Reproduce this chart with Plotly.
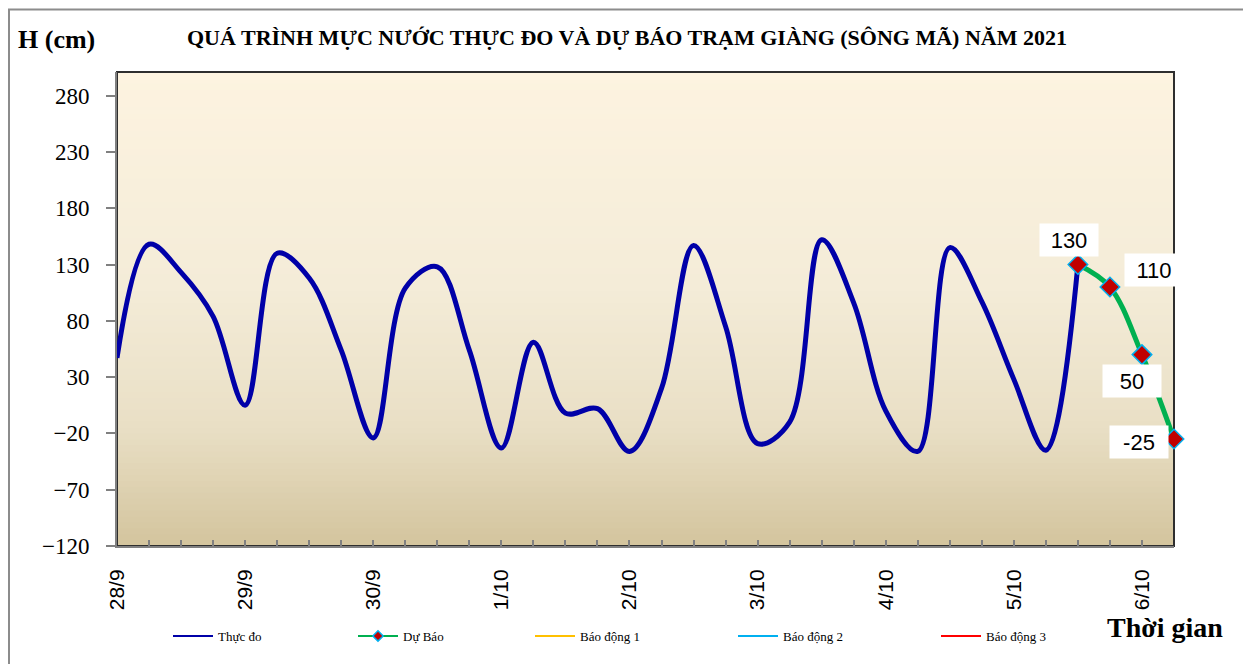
import plotly.graph_objects as go

# ---------------- data ----------------
day_labels = ["28/9", "29/9", "30/9", "1/10", "2/10", "3/10", "4/10", "5/10", "6/10"]
steps_per_day = 4  # one value every 6 hours

observed = [47, 148, 123, 84, 5, 140, 118, 54, -24, 109, 128, 54, -33, 61,
            -2, 2, -36, 20, 147, 75, -29, -10, 152, 96, 0, -36, 145, 97, 28, -35, 130]
forecast = [130, 110, 50, -25]
forecast_labels = ["130", "110", "50", "-25"]
y_ticks = [-120, -70, -20, 30, 80, 130, 180, 230, 280]
legend_names = ["Thực đo", "Dự Báo", "Báo động 1", "Báo động 2", "Báo động 3"]

# ---------------- layout geometry (window pixels) ----------------
OFF = 8                     # page body margin
W, H = 1251, 664
PL, PR, PT, PB = 117, 1174, 72, 546   # plot area in window pixels
ML = PL - OFF
MT = PT - OFF
MR = W - (PR - OFF)
MB = H - (PB - OFF)
PW = PR - PL
PH = PB - PT


def px(xp):
    return (xp - PL) / PW


def py(yp):
    return (PB - yp) / PH


x_obs = list(range(len(observed)))
fc_start = len(observed) - 1
x_fc = list(range(fc_start, fc_start + len(forecast)))
x_end = x_fc[-1]

tickvals = list(range(0, x_end + 1))
ticktext = [day_labels[i // steps_per_day] if (i % steps_per_day == 0 and i // steps_per_day < len(day_labels)) else ""
            for i in tickvals]

fig = go.Figure()

fig.add_trace(go.Scatter(
    x=x_obs, y=observed, mode="lines", name=legend_names[0],
    line=dict(color="#0000A8", width=5, shape="spline", smoothing=1),
    showlegend=False, hoverinfo="skip"))

fig.add_trace(go.Scatter(
    x=x_fc, y=forecast, mode="lines+markers", name=legend_names[1],
    line=dict(color="#00B050", width=5, shape="spline", smoothing=1),
    marker=dict(symbol="diamond", size=15, color="#C00000",
                line=dict(color="#00B0F0", width=1.5)),
    cliponaxis=False, showlegend=False, hoverinfo="skip"))

# legend-only entries
fig.add_trace(go.Scatter(x=[None], y=[None], mode="lines", name=legend_names[0],
                         line=dict(color="#0000A8", width=2), legend="legend"))
fig.add_trace(go.Scatter(
    x=[None], y=[None], mode="lines+markers", name=legend_names[1],
    line=dict(color="#00B050", width=2),
    marker=dict(symbol="diamond", size=8, color="#C00000",
                line=dict(color="#00B0F0", width=1.5)),
    legend="legend2"))
for nm, col, lg in zip(legend_names[2:], ["#FFC000", "#00B0F0", "#FF0000"],
                       ["legend3", "legend4", "legend5"]):
    fig.add_trace(go.Scatter(x=[None], y=[None], mode="lines", name=nm,
                             line=dict(color=col, width=2), legend=lg))

# ---------------- background gradient ----------------
stops = [(0.0, (253, 243, 224)), (0.45, (244, 236, 216)),
         (0.75, (233, 223, 197)), (1.0, (211, 196, 157))]


def grad(t):
    for (t0, c0), (t1, c1) in zip(stops[:-1], stops[1:]):
        if t0 <= t <= t1:
            f = (t - t0) / (t1 - t0)
            return "rgb(%d,%d,%d)" % tuple(round(a + (b - a) * f) for a, b in zip(c0, c1))
    return "rgb(%d,%d,%d)" % stops[-1][1]


shapes = []
N = 80
for k in range(N):
    t = 1 - (k + 0.5) / N
    shapes.append(dict(type="rect", xref="x domain", yref="y domain",
                       x0=0, x1=1, y0=k / N, y1=(k + 1) / N + 0.002,
                       fillcolor=grad(t), line=dict(width=0), layer="below"))
shapes.append(dict(type="rect", xref="x domain", yref="y domain", x0=0, x1=1, y0=0, y1=1,
                   line=dict(color="#2E2E2E", width=2), fillcolor="rgba(0,0,0,0)", layer="below"))
# outer chart border
shapes.append(dict(type="rect", xref="paper", yref="paper",
                   x0=px(9), x1=px(1248), y0=py(700), y1=py(9.5),
                   line=dict(color="#8C8C8C", width=2), fillcolor="rgba(0,0,0,0)", layer="below"))

annotations = [
    dict(text="<b>QUÁ TRÌNH MỰC NƯỚC THỰC ĐO VÀ DỰ BÁO TRẠM GIÀNG (SÔNG MÃ) NĂM 2021</b>",
         xref="paper", yref="paper", x=px(627), y=py(38), showarrow=False,
         font=dict(family="Liberation Serif", size=22, color="black"), xanchor="center", yanchor="middle"),
    dict(text="<b>H (cm)</b>", xref="paper", yref="paper", x=px(16), y=py(40), showarrow=False,
         font=dict(family="Liberation Serif", size=26, color="black"), xanchor="left", yanchor="middle"),
    dict(text="<b>Thời gian</b>", xref="paper", yref="paper", x=px(1165), y=py(627), showarrow=False,
         font=dict(family="Liberation Serif", size=28, color="black"), xanchor="center", yanchor="middle"),
]

shifts = [(-9, 25), (44, 17), (-10, -26), (-35, -3)]
for xi, yi, lab, (dx, dy) in zip(x_fc, forecast, forecast_labels, shifts):
    annotations.append(dict(text=lab, x=xi, y=yi, xref="x", yref="y", showarrow=False,
                            xshift=dx, yshift=dy, bgcolor="white", width=56, height=30,
                            font=dict(family="Liberation Sans", size=22, color="black")))

legend_x_px = [168, 353, 530, 733, 936]
leg_common = dict(orientation="h", yanchor="middle", xanchor="left", bgcolor="rgba(0,0,0,0)",
                  itemwidth=40,
                  font=dict(family="Liberation Serif", size=13, color="black"))
legends = {}
for i, lx in enumerate(legend_x_px):
    key = "legend" if i == 0 else "legend%d" % (i + 1)
    legends[key] = dict(x=px(lx), y=py(636), **leg_common)

fig.update_layout(
    width=W, height=H,
    margin=dict(l=ML, r=MR, t=MT, b=MB, pad=0),
    paper_bgcolor="white", plot_bgcolor="rgba(0,0,0,0)",
    shapes=shapes, annotations=annotations,
    **legends,
    xaxis=dict(range=[0, x_end], tickmode="array", tickvals=tickvals, ticktext=ticktext,
               tickangle=-90, ticks="inside", ticklen=6, tickwidth=1.5, tickcolor="#808080",
               showline=True, linecolor="#808080", linewidth=2, showgrid=False, zeroline=False,
               tickfont=dict(family="Liberation Sans", size=21, color="black"),
               ticklabelstandoff=13),
    yaxis=dict(range=[-120, 301], tickmode="array", tickvals=y_ticks,
               ticks="outside", ticklen=9, tickwidth=1.5, tickcolor="#808080",
               showline=True, linecolor="#808080", linewidth=2, showgrid=False, zeroline=False,
               tickfont=dict(family="Liberation Serif", size=23, color="black"),
               ticklabelstandoff=12),
)

fig.write_html("out.html")
